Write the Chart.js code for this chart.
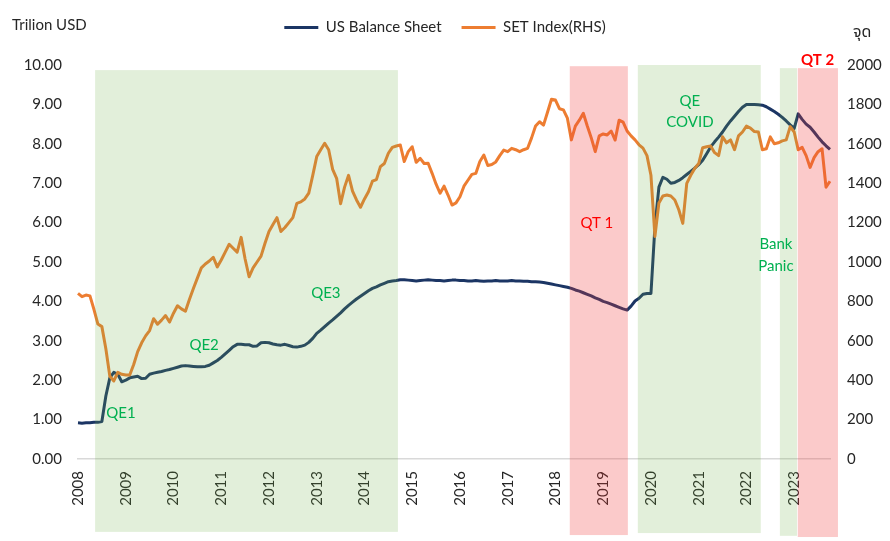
<!DOCTYPE html>
<html><head><meta charset="utf-8">
<script src="https://cdn.jsdelivr.net/npm/chart.js@4.4.1/dist/chart.umd.min.js"></script>
<style>html,body{margin:0;padding:0;background:#fff}canvas{display:block}</style>
</head><body>
<canvas id="c" width="890" height="541"></canvas>
<script>
// ---- data ----
const years = ['2008','2009','2010','2011','2012','2013','2014','2015','2016','2017','2018','2019','2020','2021','2022','2023'];
const monthNames = ['Jan','Feb','Mar','Apr','May','Jun','Jul','Aug','Sep','Oct','Nov','Dec'];
const monthCount = 190; // Jan 2008 .. Oct 2023
const months = years.flatMap(yr => monthNames.map(m => m + ' ' + yr)).slice(0, monthCount);

// US Fed balance sheet, trillion USD (left axis)
const usBalanceSheet = [
0.92,0.91,0.92,0.92,0.93,0.93,0.95,1.6,2.06,2.2,
2.15,1.96,2.0,2.06,2.08,2.1,2.04,2.05,2.15,2.18,
2.2,2.22,2.25,2.27,2.3,2.33,2.36,2.37,2.36,2.35,
2.34,2.34,2.35,2.38,2.44,2.5,2.58,2.67,2.76,2.85,
2.91,2.91,2.9,2.9,2.86,2.87,2.95,2.96,2.95,2.92,
2.9,2.89,2.91,2.88,2.85,2.84,2.86,2.89,2.96,3.06,
3.19,3.27,3.36,3.45,3.53,3.62,3.71,3.81,3.9,3.98,
4.06,4.13,4.2,4.27,4.33,4.37,4.42,4.46,4.5,4.52,
4.53,4.55,4.55,4.54,4.53,4.52,4.53,4.54,4.55,4.54,
4.53,4.53,4.52,4.53,4.54,4.54,4.53,4.53,4.52,4.52,
4.53,4.52,4.51,4.52,4.52,4.53,4.52,4.52,4.52,4.53,
4.52,4.52,4.51,4.51,4.5,4.5,4.49,4.48,4.46,4.44,
4.42,4.4,4.38,4.36,4.33,4.29,4.26,4.22,4.18,4.14,
4.09,4.05,4.0,3.97,3.93,3.89,3.85,3.81,3.78,3.88,
4.01,4.08,4.18,4.2,4.2,5.9,6.9,7.15,7.1,7.0,
7.02,7.07,7.14,7.22,7.3,7.38,7.47,7.58,7.75,7.92,
8.05,8.17,8.3,8.45,8.58,8.7,8.82,8.93,9.0,9.0,
9.0,8.99,8.98,8.94,8.88,8.82,8.75,8.67,8.58,8.48,
8.39,8.76,8.62,8.5,8.42,8.3,8.17,8.05,7.95,7.86
];

// SET index, points (right axis)
const setIndex = [
841,824,832,828,760,685,672,560,420,396,
440,430,426,426,480,545,590,625,652,712,
684,705,728,695,740,778,762,750,810,865,
918,970,990,1005,1024,975,1010,1050,1090,1070,
1050,1125,1015,925,970,1000,1030,1095,1155,1190,
1225,1155,1175,1200,1225,1298,1305,1320,1350,1440,
1535,1570,1603,1570,1470,1425,1296,1380,1440,1360,
1315,1278,1320,1357,1410,1418,1484,1500,1552,1582,
1589,1594,1510,1560,1585,1506,1526,1500,1501,1450,
1395,1349,1385,1340,1289,1300,1331,1385,1415,1445,
1450,1510,1543,1490,1495,1508,1540,1568,1560,1577,
1570,1560,1570,1577,1630,1690,1712,1695,1760,1826,
1822,1778,1772,1730,1620,1690,1720,1755,1690,1630,
1560,1640,1650,1645,1665,1619,1720,1710,1665,1640,
1620,1595,1578,1540,1440,1130,1300,1335,1340,1335,
1315,1265,1196,1399,1440,1475,1500,1580,1585,1589,
1555,1540,1636,1605,1620,1570,1640,1660,1690,1680,
1662,1660,1570,1575,1635,1600,1605,1615,1620,1687,
1660,1570,1582,1540,1480,1530,1560,1575,1380,1410
];

const leftTicks = [0,1,2,3,4,5,6,7,8,9,10];
const rightTicks = [0,200,400,600,800,1000,1200,1400,1600,1800,2000];

// policy periods (month-index positions on the category axis, left-axis units vertically)
const periodNames = ['QE1-3','QT 1','QE COVID','Bank Panic','QT 2'];
const periodFrom  = [4.3, 123.6, 140.7, 176.4, 180.9];
const periodTo    = [80.4, 138.2, 171.6, 180.7, 191.0];
const periodKind  = ['qe','qt','qe','qe','qt'];
const periodTop   = [9.87, 9.97, 10.0, 9.92, 9.92];
const periodBottom= [-1.85,-1.93,-1.88,-1.95,-1.98];

const noteTexts = ['QE1','QE2','QE3','QT 1','QE','COVID','Bank','Panic','QT 2'];
const noteAt    = [10.8, 31.7, 62.3, 130.4, 153.8, 153.8, 175.4, 175.4, 185.9];
const noteValue = [1.17, 2.89, 4.21, 5.99, 9.09, 8.55, 5.46, 4.90, 10.13];
const noteKind  = ['qe','qe','qe','qt','qe','qe','qe','qe','qt2'];

// ---- styles ----
const FONT = "Lato, 'Noto Sans Thai', 'Noto Sans', sans-serif";
const TXT = '#262626';
const NAVY = '#1b3564';
const ORANGE = '#ed7d31';
const bandFill = {qe: 'rgba(112,173,71,0.2)', qt: 'rgba(240,60,60,0.27)'};
const noteStyle = {
  qe:  {color:'#00b050', weight:'normal'},
  qt:  {color:'#ff0000', weight:'normal'},
  qt2: {color:'#ff0000', weight:'bold'}
};

const overlay = {
  id: 'overlay',
  afterDatasetsDraw(chart) {
    const {ctx, scales} = chart;
    const x = scales.x, y = scales.y;
    ctx.save();
    periodNames.forEach((n, i) => {
      const x0 = x.getPixelForValue(periodFrom[i]);
      const x1 = x.getPixelForValue(periodTo[i]);
      const y0 = y.getPixelForValue(periodTop[i]);
      const y1 = y.getPixelForValue(periodBottom[i]);
      ctx.fillStyle = bandFill[periodKind[i]];
      ctx.fillRect(x0, y0, x1 - x0, y1 - y0);
    });
    ctx.textAlign = 'center';
    ctx.textBaseline = 'middle';
    noteTexts.forEach((t, i) => {
      const st = noteStyle[noteKind[i]];
      ctx.font = st.weight + ' 15px ' + FONT;
      ctx.fillStyle = st.color;
      ctx.fillText(t, x.getPixelForValue(noteAt[i]), y.getPixelForValue(noteValue[i]));
    });
    ctx.restore();
  },
  afterDraw(chart) {
    const {ctx, chartArea, scales} = chart;
    ctx.save();
    ctx.fillStyle = TXT;
    ctx.textBaseline = 'middle';
    ctx.textAlign = 'left';
    ctx.font = '15px ' + FONT;
    ctx.fillText('Trilion USD', scales.y.left + 12, chartArea.top - 40);
    ctx.font = '16px ' + FONT;
    ctx.fillText('จุด', scales.y2.left + 23, chartArea.top - 33);
    ctx.restore();
  }
};

new Chart(document.getElementById('c'), {
  type: 'line',
  data: {
    labels: months,
    datasets: [
      {label: 'US Balance Sheet', data: usBalanceSheet, yAxisID: 'y', borderColor: NAVY, backgroundColor: NAVY,
       borderWidth: 3, pointRadius: 0, tension: 0, order: 1, borderJoinStyle: 'round'},
      {label: 'SET Index(RHS)', data: setIndex, yAxisID: 'y2', borderColor: ORANGE, backgroundColor: ORANGE,
       borderWidth: 3, pointRadius: 0, tension: 0, order: 0, borderJoinStyle: 'round'}
    ]
  },
  options: {
    responsive: false,
    animation: false,
    layout: {padding: {top: 0, left: 0, right: 0, bottom: 0}},
    plugins: {
      tooltip: {enabled: false},
      legend: {
        position: 'top',
        weight: 1000,
        labels: {
          font: {family: FONT, size: 15}, color: TXT, boxWidth: 34, boxHeight: 3, padding: 20,
          sort: (a, b) => a.datasetIndex - b.datasetIndex,
          generateLabels(chart) {
            const items = Chart.defaults.plugins.legend.labels.generateLabels(chart);
            items.forEach(it => { it.lineWidth = 0; });
            return items;
          }
        }
      },
      // blank spacer between legend and plot area
      title: {display: true, text: ' ', position: 'top', weight: 500, font: {size: 10, lineHeight: 1}, padding: {top: 5, bottom: 5}}
    },
    scales: {
      x: {
        type: 'category',
        offset: false,
        grid: {display: false, drawTicks: false},
        border: {display: true, color: '#d9d9d9', width: 1.5},
        ticks: {
          autoSkip: false, maxRotation: 90, minRotation: 90, padding: 12,
          font: {family: FONT, size: 15}, color: TXT,
          callback(v, i) { return i % 12 === 0 ? years[i / 12] : null; }
        },
        afterFit(s) { s.height = 82; }
      },
      y: {
        position: 'left', min: 0, max: 10,
        grid: {display: false, drawTicks: false},
        border: {display: false},
        afterBuildTicks(s) { s.ticks = leftTicks.map(v => ({value: v})); },
        ticks: {padding: 16, font: {family: FONT, size: 15}, color: TXT, callback: v => v.toFixed(2)},
        afterFit(s) { s.width = 78; }
      },
      y2: {
        position: 'right', min: 0, max: 2000,
        grid: {display: false, drawTicks: false},
        border: {display: false},
        afterBuildTicks(s) { s.ticks = rightTicks.map(v => ({value: v})); },
        ticks: {padding: 17, font: {family: FONT, size: 15}, color: TXT, callback: v => String(v)},
        afterFit(s) { s.width = 60; }
      }
    }
  },
  plugins: [overlay]
});
</script>
</body></html>
